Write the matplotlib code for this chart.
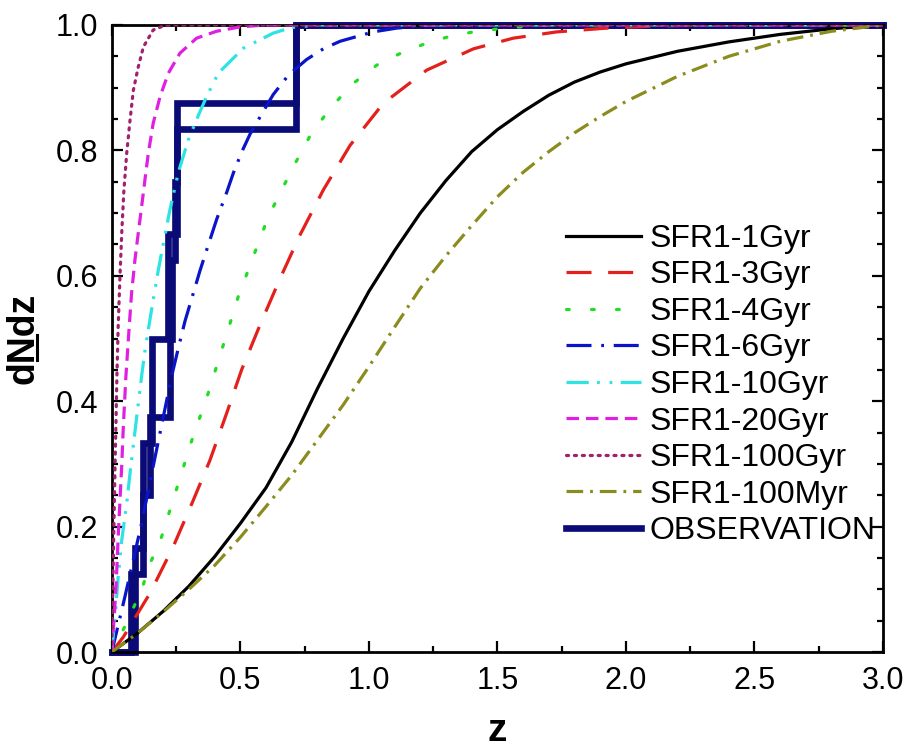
import matplotlib
matplotlib.use('Agg')
import matplotlib.pyplot as plt
from matplotlib.lines import Line2D
from matplotlib.ticker import MultipleLocator, FormatStrFormatter

# model curves (z, cumulative fraction)
z_1gyr = [0, 0.1, 0.2, 0.3, 0.4, 0.5, 0.6, 0.7, 0.8, 0.9, 1.0, 1.1, 1.2, 1.3, 1.4, 1.5,
          1.6, 1.7, 1.8, 1.9, 2.0, 2.2, 2.4, 2.6, 2.8, 3.0]
f_1gyr = [0, 0.03, 0.065, 0.105, 0.152, 0.205, 0.262, 0.335, 0.42, 0.5, 0.575, 0.64, 0.70,
          0.752, 0.798, 0.833, 0.862, 0.888, 0.909, 0.925, 0.938, 0.958, 0.973, 0.985,
          0.994, 1.0]

z_3gyr = [0, 0.045, 0.149, 0.239, 0.317, 0.382, 0.447, 0.505, 0.577, 0.654, 0.732, 0.823,
          0.927, 1.056, 1.225, 1.407, 1.562, 1.731, 1.926, 2.1, 2.3, 3.0]
f_3gyr = [0, 0.024, 0.094, 0.168, 0.242, 0.306, 0.381, 0.45, 0.522, 0.595, 0.665, 0.737,
          0.808, 0.875, 0.928, 0.962, 0.979, 0.989, 0.995, 0.998, 1.0, 1.0]

z_4gyr = [0, 0.05, 0.116, 0.149, 0.194, 0.226, 0.259, 0.291, 0.324, 0.363, 0.395, 0.428,
          0.46, 0.492, 0.531, 0.57, 0.609, 0.661, 0.713, 0.771, 0.849, 0.94, 1.031, 1.134,
          1.225, 1.316, 1.407, 1.55, 1.7, 3.0]
f_4gyr = [0, 0.04, 0.099, 0.141, 0.184, 0.226, 0.269, 0.311, 0.354, 0.397, 0.439, 0.482,
          0.524, 0.567, 0.609, 0.652, 0.694, 0.737, 0.779, 0.823, 0.867, 0.907, 0.936, 0.957,
          0.971, 0.982, 0.989, 0.996, 1.0, 1.0]

z_6gyr = [0, 0.051, 0.116, 0.168, 0.188, 0.233, 0.259, 0.285, 0.317, 0.343, 0.376, 0.408,
          0.447, 0.473, 0.505, 0.538, 0.589, 0.628, 0.687, 0.758, 0.823, 0.888, 1.017, 1.108,
          1.25, 3.0]
f_6gyr = [0, 0.088, 0.205, 0.31, 0.35, 0.44, 0.485, 0.528, 0.572, 0.608, 0.65, 0.69,
          0.733, 0.764, 0.797, 0.826, 0.862, 0.889, 0.92, 0.945, 0.962, 0.974, 0.989, 0.995,
          1.0, 1.0]

z_10gyr = [0, 0.016, 0.025, 0.039, 0.058, 0.071, 0.084, 0.097, 0.116, 0.129, 0.142, 0.161,
           0.181, 0.2, 0.226, 0.259, 0.298, 0.337, 0.369, 0.414, 0.512, 0.628, 0.7, 0.8, 3.0]
f_10gyr = [0, 0.072, 0.12, 0.179, 0.237, 0.285, 0.33, 0.375, 0.44, 0.48, 0.514, 0.561,
           0.609, 0.65, 0.705, 0.765, 0.817, 0.856, 0.886, 0.923, 0.963, 0.987, 0.996, 1.0, 1.0]

z_20gyr = [0, 0.012, 0.019, 0.025, 0.032, 0.039, 0.045, 0.055, 0.068, 0.077, 0.09, 0.103,
           0.116, 0.129, 0.142, 0.161, 0.188, 0.22, 0.265, 0.33, 0.408, 0.5, 0.6, 3.0]
f_20gyr = [0, 0.072, 0.126, 0.184, 0.242, 0.30, 0.36, 0.44, 0.52, 0.572, 0.625, 0.668,
           0.71, 0.753, 0.795, 0.843, 0.886, 0.923, 0.955, 0.979, 0.99, 0.997, 1.0, 1.0]

z_100gyr = [0, 0.005, 0.01, 0.015, 0.02, 0.025, 0.032, 0.039, 0.047, 0.058, 0.071, 0.084,
            0.103, 0.123, 0.161, 0.21, 3.0]
f_100gyr = [0, 0.12, 0.24, 0.34, 0.44, 0.52, 0.60, 0.67, 0.735, 0.795, 0.848, 0.896,
            0.933, 0.965, 0.992, 1.0, 1.0]

z_100myr = [0, 0.1, 0.2, 0.3, 0.4, 0.5, 0.6, 0.7, 0.8, 0.9, 1.0, 1.1, 1.2, 1.3, 1.4, 1.5,
            1.6, 1.7, 1.8, 1.9, 2.0, 2.2, 2.4, 2.6, 2.8, 3.0]
f_100myr = [0, 0.03, 0.064, 0.1, 0.138, 0.183, 0.232, 0.282, 0.338, 0.394, 0.455, 0.518,
            0.58, 0.632, 0.68, 0.726, 0.765, 0.798, 0.828, 0.854, 0.878, 0.918, 0.95,
            0.974, 0.99, 1.0]

# observed redshifts (two samples, drawn as cumulative steps)
obs_z_a = [0.075, 0.122, 0.15, 0.226, 0.235, 0.245, 0.255, 0.717]
obs_z_b = [0.09, 0.122, 0.155, 0.22, 0.255, 0.717]

labels = ['SFR1-1Gyr', 'SFR1-3Gyr', 'SFR1-4Gyr', 'SFR1-6Gyr', 'SFR1-10Gyr',
          'SFR1-20Gyr', 'SFR1-100Gyr', 'SFR1-100Myr', 'OBSERVATION']

plt.rcParams['font.family'] = ['Liberation Sans', 'DejaVu Sans']
plt.rcParams['lines.scale_dashes'] = False

fig = plt.figure(figsize=(9.05, 7.48), dpi=100)
ax = fig.add_axes([0.1235, 0.1283, 0.8522, 0.8383])

lw = 2.3
curves = [
    (z_1gyr, f_1gyr, 'black', None, 'butt'),
    (z_3gyr, f_3gyr, '#e3201b', (18, 12), 'butt'),
    (z_4gyr, f_4gyr, '#22dd22', (2, 16), 'round'),
    (z_6gyr, f_6gyr, '#0a14c8', (18, 7, 2, 7), 'butt'),
    (z_10gyr, f_10gyr, '#2de3e3', (16, 6, 2, 7, 2, 6), 'butt'),
    (z_20gyr, f_20gyr, '#e020e0', (9, 5), 'butt'),
    (z_100gyr, f_100gyr, '#a0226e', (1.5, 4.2), 'round'),
    (z_100myr, f_100myr, '#8c8c1e', (12, 5, 2, 5), 'butt'),
]
for (zz, ff, col, dash, cap), lab in zip(curves, labels):
    line, = ax.plot(zz, ff, color=col, lw=lw, label=lab, dash_capstyle=cap, zorder=3)
    if dash is not None:
        line.set_dashes(dash)

obs_col = '#0b0b78'
for k, zs in enumerate([obs_z_a, obs_z_b]):
    n = len(zs)
    xs = [0] + zs + [3.0]
    ys = [0] + [(i + 1) / n for i in range(n)] + [1.0]
    ax.step(xs, ys, where='post', color=obs_col, lw=4.8, clip_on=False, zorder=2,
            solid_joinstyle='miter', label=labels[-1] if k == 0 else None)

ax.set_xlim(0, 3)
ax.set_ylim(0, 1)
ax.xaxis.set_major_locator(MultipleLocator(0.5))
ax.xaxis.set_minor_locator(MultipleLocator(0.25))
ax.yaxis.set_major_locator(MultipleLocator(0.2))
ax.yaxis.set_minor_locator(MultipleLocator(0.05))
ax.tick_params(which='both', direction='in', top=True, right=True, width=1.6)
ax.tick_params(which='major', length=8, pad=10)
ax.tick_params(which='minor', length=4)
for s in ax.spines.values():
    s.set_linewidth(2.0)
ax.yaxis.set_major_formatter(FormatStrFormatter('%.1f'))
ax.xaxis.set_major_formatter(FormatStrFormatter('%.1f'))
ax.tick_params(axis='y', labelsize=22)
ax.tick_params(axis='x', labelsize=22)

ax.set_xlabel('z', fontsize=28, fontweight='bold', labelpad=12)
ax.set_ylabel('dNdz', fontsize=27, fontweight='bold', labelpad=10)

ax.legend(loc='upper left', bbox_to_anchor=(0.589, 0.683), frameon=False, fontsize=23,
          handlelength=2.35, handletextpad=0.25, labelspacing=0.205, borderpad=0,
          borderaxespad=0)

# underline under the N of the y label
fig.canvas.draw()
r = fig.canvas.get_renderer()
ylab = ax.yaxis.label
fp = ylab.get_fontproperties()
w_d = r.get_text_width_height_descent('d', fp, ismath=False)[0]
w_dn = r.get_text_width_height_descent('dN', fp, ismath=False)[0]
desc = r.get_text_width_height_descent('lp', fp, ismath=False)[2]
bb = ylab.get_window_extent(r)
x_ul = bb.x1 - desc + 4
inv = fig.transFigure.inverted()
p0 = inv.transform((x_ul, bb.y0 + w_d + 1))
p1 = inv.transform((x_ul, bb.y0 + w_dn - 1))
fig.add_artist(Line2D([p0[0], p1[0]], [p0[1], p1[1]], transform=fig.transFigure,
                      color='black', lw=2.2))

fig.savefig('out.png', dpi=100)
